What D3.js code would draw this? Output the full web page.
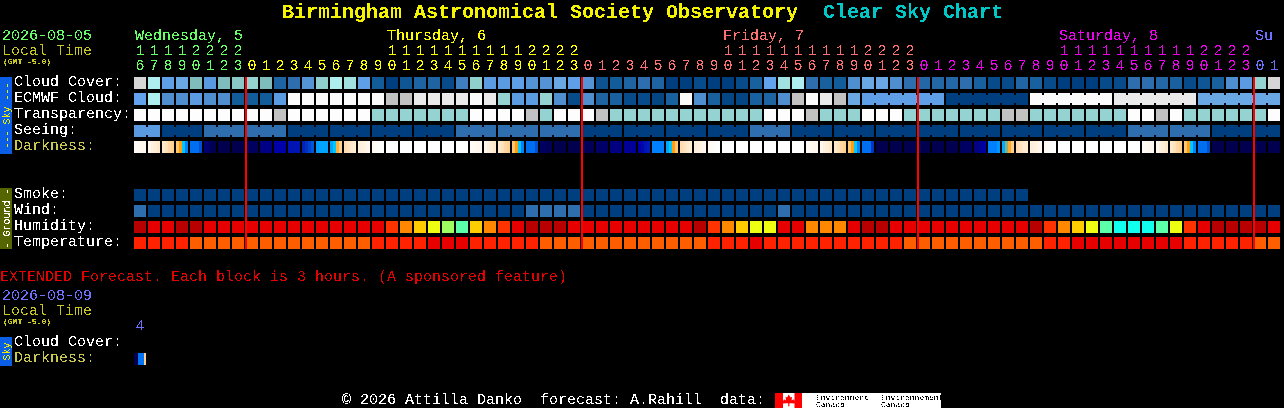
<!DOCTYPE html>
<html>
<head>
<meta charset="utf-8">
<script src="https://cdn.jsdelivr.net/npm/d3@7"></script>
<style>
  html, body { margin: 0; background: #000; overflow: hidden; }
  svg { display: block; }
  text { font-family: "Liberation Mono", monospace; font-size: 15px; white-space: pre; }
</style>
</head>
<body>
<div id="chart"></div>
<script>
// Hours of the forecast, one block per hour
const hours = [
  16, 17, 18, 19, 20, 21, 22, 23,
  0, 1, 2, 3, 4, 5, 6, 7, 8, 9, 10, 11, 12, 13, 14, 15, 16, 17, 18, 19, 20, 21, 22, 23,
  0, 1, 2, 3, 4, 5, 6, 7, 8, 9, 10, 11, 12, 13, 14, 15, 16, 17, 18, 19, 20, 21, 22, 23,
  0, 1, 2, 3, 4, 5, 6, 7, 8, 9, 10, 11, 12, 13, 14, 15, 16, 17, 18, 19, 20, 21, 22, 23,
  0, 1,
];
// index of the day each block belongs to
const hourDays = [
  0, 0, 0, 0, 0, 0, 0, 0,
  1, 1, 1, 1, 1, 1, 1, 1, 1, 1, 1, 1, 1, 1, 1, 1, 1, 1, 1, 1, 1, 1, 1, 1,
  2, 2, 2, 2, 2, 2, 2, 2, 2, 2, 2, 2, 2, 2, 2, 2, 2, 2, 2, 2, 2, 2, 2, 2,
  3, 3, 3, 3, 3, 3, 3, 3, 3, 3, 3, 3, 3, 3, 3, 3, 3, 3, 3, 3, 3, 3, 3, 3,
  4, 4,
];
const dayLabels = ["Wednesday, 5", "Thursday, 6", "Friday, 7", "Saturday, 8", "Su"];
const dayLabelBlocks = [0, 18, 42, 66, 80];
const dayColors = ["#66ff66", "#ffff00", "#ff7070", "#ee00ee", "#7070ff"];
const midnightBlocks = [8, 32, 56, 80];

const skyRows = ["Cloud Cover:", "ECMWF Cloud:", "Transparency:", "Seeing:", "Darkness:"];
const groundRows = ["Smoke:", "Wind:", "Humidity:", "Temperature:"];

// cloud cover, percent
const cloudCover = [
  85, 70, 38, 42, 50, 35, 50, 55, 60, 50, 14, 20, 32, 58, 70, 65, 38, 10, 0, 8, 14, 14,
  4, 25, 58, 36, 36, 38, 32, 32, 42, 38, 32, 7, 10, 14, 20, 14, 0, 0, 4, 0, 0, 4, 12, 40,
  65, 70, 20, 12, 10, 30, 42, 42, 30, 20, 16, 16, 16, 20, 12, 4, 4, 15, 12, 4, 0, 0, 0, 4,
  4, 20, 20, 16, 12, 4, 8, 12, 30, 36, 60, 85,
];
const ecmwfCloud = [
  40, 70, 30, 30, 36, 30, 30, 10, 10, 10, 36, 100, 100, 100, 100, 100, 100, 100, 80, 80, 90, 90,
  90, 90, 100, 90, 60, 36, 36, 60, 30, 4, 30, 14, 12, 4, 4, 2, 12, 100, 30, 12, 2, 2, 12, 14,
  30, 80, 100, 90, 80, 42, 38, 38, 38, 38, 38, 38, 0, 0, 0, 0, 0, 0, 100, 100, 100, 100, 100, 100,
  90, 90, 90, 90, 90, 90, 42, 42, 42, 42, 42, 42,
];
// 0 too cloudy, 1 cloudy, 2 poor
const transparency = [
  0, 0, 0, 0, 0, 0, 0, 0, 0, 0, 1, 0, 0, 0, 0, 0, 0, 2, 2, 2, 2, 2,
  2, 2, 0, 0, 0, 0, 1, 2, 0, 0, 0, 1, 2, 2, 2, 2, 2, 2, 2, 2, 2, 2, 2, 0,
  0, 0, 1, 2, 2, 2, 0, 0, 0, 2, 2, 2, 2, 2, 2, 2, 1, 1, 2, 2, 2, 2, 2, 2,
  2, 0, 0, 1, 0, 2, 2, 2, 2, 2, 2, 0,
];
// seeing in fifths
const seeing = [
  3, 3, 5, 5, 5, 4, 4, 4, 4, 4, 4, 5, 5, 5, 5, 5, 5, 5, 5, 5, 5, 5,
  5, 4, 4, 4, 4, 4, 4, 4, 4, 4, 5, 5, 5, 5, 5, 5, 5, 5, 5, 5, 5, 5, 4, 4,
  4, 5, 5, 5, 5, 5, 5, 5, 5, 5, 5, 5, 5, 5, 5, 5, 5, 5, 5, 5, 5, 5, 5, 5,
  5, 4, 4, 4, 4, 4, 4, 5, 5, 5, 5, 5,
];
// sky brightness steps inside each hour, 0 darkest to 10 full daylight
const darkness = [
  [9.5, 9.3, 9.1, 9], [9, 8.6, 8.3, 8], [8, 7.7, 7.3, 7], [6.8, 6, 5, 4], [3.7, 3.7, 3.7, 3.2],
  [0.8, 0.5, 0.2, 0], [0, 0, 0, 0], [0, 0, 0, 0], [0.3, 0.3, 0.3, 0.3], [1.1, 1.1, 1.1, 1.1],
  [2, 2, 2, 2], [2.3, 2.3, 2.3, 2.3], [2.5, 2.7, 3, 3.3], [4.4, 4.5, 4.5, 4.5], [4.5, 5, 6.3, 7],
  [7.5, 7.8, 8, 8.3], [8.4, 8.6, 8.8, 9], [9.2, 9.5, 9.7, 10],
  [10, 10, 10, 10], [10, 10, 10, 10], [10, 10, 10, 10], [10, 10, 10, 10], [10, 10, 10, 10], [10, 10, 10, 10],
  [9.5, 9.3, 9.1, 9], [9, 8.6, 8.3, 8], [8, 7.7, 7.3, 7], [6.8, 6, 5, 4], [3.7, 3.7, 3.7, 3.2],
  [0.4, 0.3, 0.2, 0.2], [0, 0, 0, 0], [0, 0, 0, 0], [0.2, 0.2, 0.2, 0.2], [0.5, 0.5, 0.5, 0.5],
  [1, 1, 1, 1], [1.6, 1.6, 1.6, 1.6], [2, 2.1, 2.3, 2.4], [4, 4, 4, 4], [4.5, 5, 6, 6.8],
  [7.5, 7.8, 8, 8.3], [8.4, 8.6, 8.8, 9], [9.2, 9.5, 9.7, 10],
  [10, 10, 10, 10], [10, 10, 10, 10], [10, 10, 10, 10], [10, 10, 10, 10], [10, 10, 10, 10], [10, 10, 10, 10],
  [9.5, 9.3, 9.1, 9], [9, 8.6, 8.3, 8], [8, 7.7, 7.3, 7], [6.8, 6, 5, 4], [3.7, 3.7, 3.7, 2.8],
  [0, 0, 0, 0], [0, 0, 0, 0], [0, 0, 0, 0], [0, 0, 0, 0], [0, 0, 0, 0], [0, 0, 0, 0],
  [0.4, 0.4, 0.4, 0.4], [1, 1.2, 1.6, 2], [4, 4, 4, 4.3], [4.6, 5.5, 6.2, 7],
  [7.6, 7.8, 8, 8.2], [8.4, 8.6, 8.8, 9], [9.2, 9.5, 9.7, 10],
  [10, 10, 10, 10], [10, 10, 10, 10], [10, 10, 10, 10], [10, 10, 10, 10], [10, 10, 10, 10], [10, 10, 10, 10],
  [9.5, 9.3, 9.1, 9], [9, 8.6, 8.3, 8], [8, 7.7, 7.3, 7], [6.8, 6, 5, 4], [3.7, 3.7, 3.7, 3.2],
  [0, 0, 0, 0], [0, 0, 0, 0], [0, 0, 0, 0], [0, 0, 0, 0], [0, 0, 0, 0],
];
// smoke stops early, the forecast is shorter
const smoke = [
  0, 0, 0, 0, 0, 0, 0, 0, 0, 0, 0, 0, 0, 0, 0, 0, 0, 0, 0, 0, 0, 0, 0, 0, 0, 0, 0, 0, 0, 0, 0, 0,
  0, 0, 0, 0, 0, 0, 0, 0, 0, 0, 0, 0, 0, 0, 0, 0, 0, 0, 0, 0, 0, 0, 0, 0, 0, 0, 0, 0, 0, 0, 0, 0,
];
// wind band, 0 calm, 1 next
const wind = [
  1, 0, 0, 0, 0, 0, 0, 0, 0, 0, 0, 0, 0, 0, 0, 0, 0, 0, 0, 0, 0, 0,
  0, 0, 0, 0, 0, 0, 1, 1, 1, 1, 0, 0, 0, 0, 0, 0, 0, 0, 0, 0, 0, 0, 0, 0,
  1, 0, 0, 0, 0, 0, 0, 0, 0, 0, 0, 0, 0, 0, 0, 0, 0, 0, 0, 0, 0, 0, 0, 0,
  0, 0, 0, 0, 0, 0, 0, 0, 0, 0, 0, 0,
];
// relative humidity, percent
const humidity = [
  97, 85, 85, 97, 97, 85, 85, 85, 85, 85, 85, 85, 85, 85, 85, 85, 85, 85, 72, 67, 62, 57,
  52, 47, 62, 67, 72, 85, 97, 97, 97, 85, 85, 85, 85, 85, 85, 85, 85, 85, 97, 72, 67, 62, 57, 57,
  85, 85, 67, 67, 67, 85, 97, 97, 85, 85, 85, 85, 85, 85, 85, 85, 85, 85, 97, 72, 67, 62, 57, 47,
  42, 42, 42, 47, 57, 72, 85, 97, 97, 97, 97, 85,
];
// temperature, degrees F
const temperature = [
  79, 79, 79, 79, 70, 70, 70, 70, 70, 70, 70, 70, 70, 70, 70, 70, 70, 79, 79, 79, 79, 88,
  88, 88, 79, 79, 79, 79, 79, 70, 70, 70, 70, 70, 70, 70, 70, 70, 70, 70, 70, 79, 79, 79, 88, 79,
  79, 79, 79, 79, 79, 79, 79, 79, 79, 70, 70, 70, 70, 70, 70, 70, 70, 70, 70, 79, 79, 88, 88, 88,
  88, 88, 88, 88, 88, 79, 79, 79, 79, 79, 70, 70,
];
const extendedHours = [4];
const extendedDarkness = [[0, 0, 3.8, 3.8, 3.8, 7]];

const width = 1284;
const height = 408;

const svg = d3
  .select("#chart")
  .append("svg")
  .attr("width", width)
  .attr("height", height)
  .style("background", "#000");

// Hard edged text, the chart looks like a bitmap font
svg
  .append("defs")
  .append("filter")
  .attr("id", "crisp")
  .append("feComponentTransfer")
  .append("feFuncA")
  .attr("type", "discrete")
  .attr("tableValues", "0 1");

// Scales
const x = d3
  .scaleBand()
  .domain(d3.range(hours.length))
  .range([134, 1280])
  .paddingInner(1 / 7)
  .paddingOuter(0);

const ySky = d3
  .scaleBand()
  .domain(skyRows)
  .range([77, 153])
  .paddingInner(0.25)
  .paddingOuter(0);

const yGround = d3
  .scaleBand()
  .domain(groundRows)
  .range([189, 249])
  .paddingInner(0.25)
  .paddingOuter(0);

const cloudColor = d3
  .scaleLinear()
  .domain([0, 10, 20, 30, 40, 50, 60, 70, 80, 90, 100])
  .range(["#003f7f", "#135c9a", "#2e6eae", "#4f8fd0", "#63a3ee", "#7fbdbd", "#95d3d3", "#aeeeee", "#c2c2c2", "#eaeaea", "#fbfbfb"]);

const transparencyColor = d3
  .scaleOrdinal()
  .domain([0, 1, 2])
  .range(["#fdfdfd", "#c2c2c2", "#95d3d3"]);

const seeingColor = d3
  .scaleOrdinal()
  .domain([3, 4, 5])
  .range(["#5a9ae0", "#2e6eae", "#003f7f"]);

const windColor = d3.scaleOrdinal().domain([0, 1]).range(["#003f7f", "#2e6eae"]);

const humidityColor = d3
  .scaleThreshold()
  .domain([45, 50, 55, 60, 65, 70, 75, 95])
  .range(["#11ffee", "#5cffaa", "#a0ff60", "#eeff11", "#ffcc00", "#ff8800", "#ff3300", "#e60000", "#b80000"]);

const temperatureColor = d3
  .scaleThreshold()
  .domain([75, 85])
  .range(["#ff5e00", "#ff2200", "#e60000"]);

const darknessColor = d3
  .scaleLinear()
  .domain([0, 1, 2, 3, 4, 5, 6, 7, 8, 9, 10])
  .range(["#00004f", "#000080", "#0000aa", "#0044cc", "#0080ff", "#00c8ff", "#ff9f10", "#ffd090", "#ffe8cc", "#fff7ec", "#ffffff"]);

const barGroup = svg.append("g");
const textGroup = svg.append("g").attr("filter", "url(#crisp)");

// A row of plain blocks, neighbours of one forecast period get a bridge
const drawRow = (y, values, color, periodOf) => {
  const row = barGroup.append("g");

  row
    .selectAll("rect.cell")
    .data(values)
    .enter()
    .append("rect")
    .attr("class", "cell")
    .attr("x", (d, i) => x(i))
    .attr("y", y)
    .attr("width", x.bandwidth())
    .attr("height", 12)
    .attr("fill", (d) => color(d));

  if (!periodOf) return;

  const bridges = d3
    .range(values.length - 1)
    .filter((i) => periodOf(i) !== null && periodOf(i) === periodOf(i + 1));

  row
    .selectAll("rect.bridge")
    .data(bridges)
    .enter()
    .append("rect")
    .attr("class", "bridge")
    .attr("x", (i) => x(i) + x.bandwidth())
    .attr("y", y + 2)
    .attr("width", x.step() - x.bandwidth())
    .attr("height", 8)
    .attr("fill", (i) => color(values[i]));
};

// Darkness blocks are split in strips since the sky changes inside the hour
const drawStrips = (xPos, y, values, bandwidth) => {
  values.forEach((steps, i) => {
    const strip = d3
      .scaleBand()
      .domain(d3.range(steps.length))
      .range([xPos(i), xPos(i) + bandwidth]);

    barGroup
      .append("g")
      .selectAll("rect")
      .data(steps)
      .enter()
      .append("rect")
      .attr("x", (d, j) => strip(j))
      .attr("y", y)
      .attr("width", strip.bandwidth())
      .attr("height", 12)
      .attr("fill", (d) => darknessColor(d));
  });
};

drawRow(ySky("Cloud Cover:"), cloudCover, cloudColor);
drawRow(ySky("ECMWF Cloud:"), ecmwfCloud, cloudColor, (i) =>
  i >= 52 ? Math.floor((i - 52) / 6) : null
);
drawRow(ySky("Transparency:"), transparency, transparencyColor);
drawRow(ySky("Seeing:"), seeing, seeingColor, (i) => Math.floor((i + 1) / 3));
drawStrips(x, ySky("Darkness:"), darkness, x.bandwidth());

drawRow(yGround("Smoke:"), smoke, cloudColor);
drawRow(yGround("Wind:"), wind, windColor);
drawRow(yGround("Humidity:"), humidity, humidityColor);
drawRow(yGround("Temperature:"), temperature, temperatureColor);

// Extended forecast, only the first block shows up
const xExtended = d3
  .scaleBand()
  .domain(d3.range(extendedHours.length))
  .range([134, 146]);
drawStrips(xExtended, 353, extendedDarkness, xExtended.bandwidth());

// Midnight lines
barGroup
  .selectAll("rect.midnight")
  .data(midnightBlocks)
  .enter()
  .append("rect")
  .attr("class", "midnight")
  .attr("x", (d) => x(d) - 1)
  .attr("y", 77)
  .attr("width", 2)
  .attr("height", 172)
  .attr("fill", "#ff0000");

// Helper for every plain label
const label = (text, xPos, y, fill, size) =>
  textGroup
    .append("text")
    .attr("x", xPos)
    .attr("y", y)
    .attr("fill", fill)
    .style("font-size", size ? `${size}px` : null)
    .text(text);

// Title
label("Birmingham Astronomical Society Observatory", 282, 18, "#f4f400", 20).style("font-weight", "bold");
label("Clear Sky Chart", 823, 18, "#00c8c8", 20).style("font-weight", "bold");

// Top left block
label("2026-08-05", 2, 40, "#66ff66");
label("Local Time", 2, 55, "#c8c820");
label("(GMT -5.0)", 3, 64, "#c8c820", 8).style("font-weight", "bold");

dayLabels.forEach((d, i) => label(d, x(dayLabelBlocks[i]) + 1, 40, dayColors[i]));

// Hour axes, tens above units
const hourAxis = (y, format) => {
  textGroup
    .append("g")
    .attr("transform", `translate(0, ${y})`)
    .call(d3.axisTop(x).tickSize(0).tickPadding(0).tickFormat(format))
    .call((g) => g.select(".domain").remove())
    .selectAll("text")
    .attr("fill", (d) => dayColors[hourDays[d]])
    .style("font-family", '"Liberation Mono", monospace')
    .style("font-size", "15px");
};

hourAxis(55, (i) => (hours[i] >= 10 ? Math.floor(hours[i] / 10) : ""));
hourAxis(70, (i) => hours[i] % 10);

// Row labels
skyRows.forEach((d) =>
  label(d, 14, ySky(d) + 9, d === "Darkness:" ? "#c8c850" : "#ffffff")
);
groundRows.forEach((d) => label(d, 14, yGround(d) + 9, "#ffffff"));

// Side bars with the rotated names
const sideBar = (y, h, fill, text, textFill) => {
  barGroup
    .append("rect")
    .attr("x", 0)
    .attr("y", y)
    .attr("width", 12)
    .attr("height", h)
    .attr("fill", fill);

  textGroup
    .append("text")
    .attr("transform", `translate(9.5, ${y + h / 2}) rotate(-90)`)
    .attr("text-anchor", "middle")
    .attr("fill", textFill)
    .style("font-size", "10px")
    .text(text);
};

sideBar(77, 77, "#0a5fe6", "--- Sky ---", "#ecec00");
sideBar(188, 61, "#556600", "- Ground -", "#ffffff");
sideBar(337, 29, "#0a5fe6", "Sky", "#ecec00");

// Extended forecast
label("EXTENDED Forecast. Each block is 3 hours. (A sponsored feature)", 0, 281, "#e60000");
label("2026-08-09", 2, 300, "#7070ff");
label("Local Time", 2, 315, "#c8c820");
label("(GMT -5.0)", 3, 324, "#c8c820", 8).style("font-weight", "bold");
extendedHours.forEach((d, i) =>
  label(d, xExtended(i) + xExtended.bandwidth() / 2, 330, "#7070ff").attr("text-anchor", "middle")
);
label("Cloud Cover:", 14, 346, "#ffffff");
label("Darkness:", 14, 362, "#c8c850");

// Footer with the data source logo
label("© 2026 Attilla Danko  forecast: A.Rahill  data:", 342, 404, "#ffffff");

const logo = svg.append("g").attr("transform", "translate(775, 393)");
logo.append("rect").attr("width", 166).attr("height", 15).attr("fill", "#ffffff");
logo.append("rect").attr("width", 8).attr("height", 15).attr("fill", "#ff0000");
logo.append("rect").attr("x", 19.5).attr("width", 7.5).attr("height", 15).attr("fill", "#ff0000");
logo
  .append("path")
  .attr("d", "M13.7 1.5l1.8 3 1.5-.7-.4 3.6 2-1.2.6 1.6 1.5-.2-.5 2-1 1-2.8-.3h-2v3h-1.2v-3h-2l-2.8.3-1-1-.5-2 1.5.2.6-1.6 2 1.2-.4-3.6 1.5.7z")
  .attr("fill", "#ff0000");

const logoText = logo.append("g").attr("fill", "#000").attr("filter", "url(#crisp)");
logoText.append("text").attr("x", 41).attr("y", 7).style("font-size", "8px").text("Environment");
logoText.append("text").attr("x", 41).attr("y", 14).style("font-size", "8px").text("Canada");
logoText.append("text").attr("x", 106).attr("y", 7).style("font-size", "8px").text("Environnement");
logoText.append("text").attr("x", 106).attr("y", 14).style("font-size", "8px").text("Canada");
</script>
</body>
</html>
